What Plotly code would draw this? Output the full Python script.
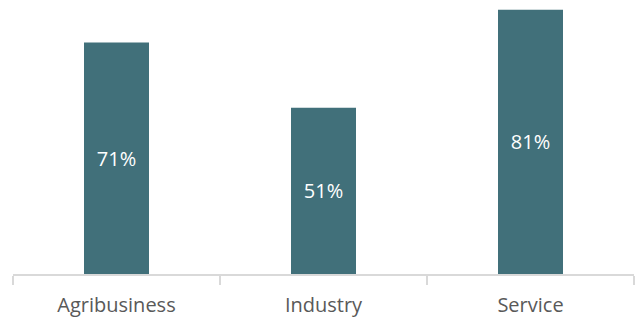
import plotly.graph_objects as go

categories = ["Agribusiness", "Industry", "Service"]
values = [71, 51, 81]
labels = ["71%", "51%", "81%"]

fig = go.Figure(go.Bar(
    x=categories, y=values, text=labels,
    textposition="inside", insidetextanchor="middle",
    textfont=dict(color="white", size=20, family="Open Sans"),
    marker=dict(color="#41707A", line=dict(width=0)),
    width=0.314,
    hoverinfo="skip",
))
fig.update_layout(
    width=636, height=320,
    margin=dict(l=13, r=2, t=0, b=46),
    paper_bgcolor="white", plot_bgcolor="white",
    showlegend=False,
    uniformtext=dict(mode=False),
)
fig.update_xaxes(
    showline=True, linecolor="#D9D9D9", linewidth=1.5,
    ticks="outside", tickson="boundaries", ticklen=9, tickcolor="#D9D9D9", tickwidth=1.5,
    tickfont=dict(color="#595959", size=20, family="Open Sans"),
    ticklabelstandoff=12,
    showgrid=False,
)
fig.update_yaxes(visible=False, range=[0, 84.0], showgrid=False)
fig.write_html("out.html")
